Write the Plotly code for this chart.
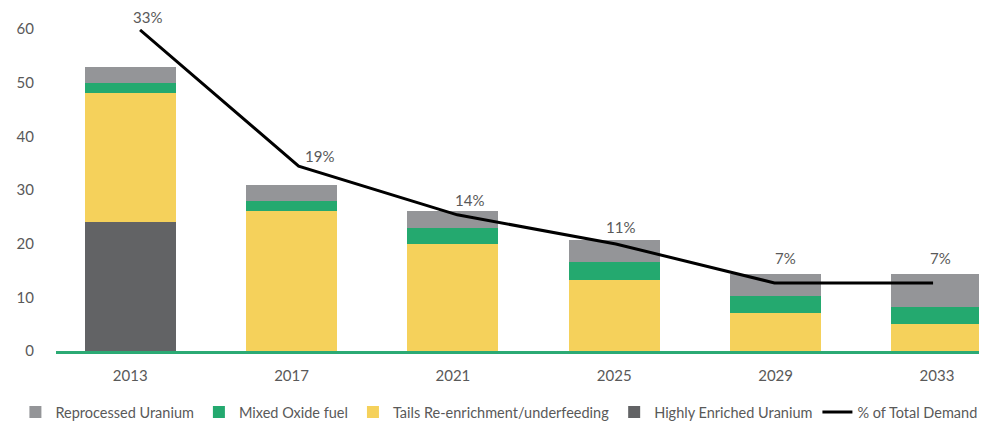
import plotly.graph_objects as go

years = ["2013", "2017", "2021", "2025", "2029", "2033"]
heu = [24, 0, 0, 0, 0, 0]
tails = [24, 26, 20, 13.3, 7.1, 5.0]
mox = [2, 2, 3, 3.2, 3.1, 3.2]
repu = [3, 3, 3, 4.1, 4.1, 6.1]
pct_demand = [0.33, 0.19, 0.14, 0.11, 0.07, 0.07]
pct_labels = ["33%", "19%", "14%", "11%", "7%", "7%"]

# label placement offsets (pixels) relative to each line point
label_dx = [7, 21, 12, 5, 11, 7]
label_dy = [13, 10, 15, 17, 25, 25]

TXT = "#595959"
FONT = "Lato, 'Open Sans', sans-serif"

fig = go.Figure()
fig.add_trace(go.Bar(x=years, y=heu, name="Highly Enriched Uranium",
                     marker_color="#626365", legendrank=4))
fig.add_trace(go.Bar(x=years, y=tails, name="Tails Re-enrichment/underfeeding",
                     marker_color="#F5D15B", legendrank=3))
fig.add_trace(go.Bar(x=years, y=mox, name="Mixed Oxide fuel",
                     marker_color="#24A96F", legendrank=2))
fig.add_trace(go.Bar(x=years, y=repu, name="Reprocessed Uranium",
                     marker_color="#949598", legendrank=1))
fig.add_trace(go.Scatter(x=years, y=pct_demand, name="% of Total Demand",
                         mode="lines", line=dict(color="black", width=3),
                         xaxis="x2", yaxis="y2", cliponaxis=False, legendrank=5))

fig.update_traces(marker_line_width=0, selector=dict(type="bar"))

for i, (yv, t, dx, dy) in enumerate(zip(pct_demand, pct_labels, label_dx, label_dy)):
    fig.add_annotation(x=i, y=yv, xref="x2", yref="y2", text=t, showarrow=False,
                       xshift=dx, yshift=dy, font=dict(size=15, color=TXT, family=FONT))

fig.update_layout(
    width=987, height=425,
    margin=dict(l=48, r=8, t=21, b=82, autoexpand=False),
    paper_bgcolor="white", plot_bgcolor="white",
    barmode="stack", bargap=0.436,
    font=dict(family=FONT, color=TXT, size=15),
    showlegend=True,
    legend=dict(orientation="h", traceorder="normal",
                x=-0.0436, xanchor="left", y=-0.19, yanchor="middle",
                font=dict(size=14.5, color=TXT, family=FONT),
                itemwidth=30, tracegroupgap=0),
    xaxis=dict(type="category", range=[-0.46, 5.31], showgrid=False,
               showline=True, linecolor="#2BAA74", linewidth=2.5,
               ticks="", ticklabelstandoff=9, zeroline=False),
    xaxis2=dict(type="category", overlaying="x", range=[-0.53, 5.34],
                visible=False),
    yaxis=dict(range=[0, 60], dtick=10, showgrid=False, zeroline=False,
               showline=False, ticks="", ticklabelstandoff=21),
    yaxis2=dict(range=[0, 0.331], overlaying="y", visible=False),
)

fig.write_html("out.html")
